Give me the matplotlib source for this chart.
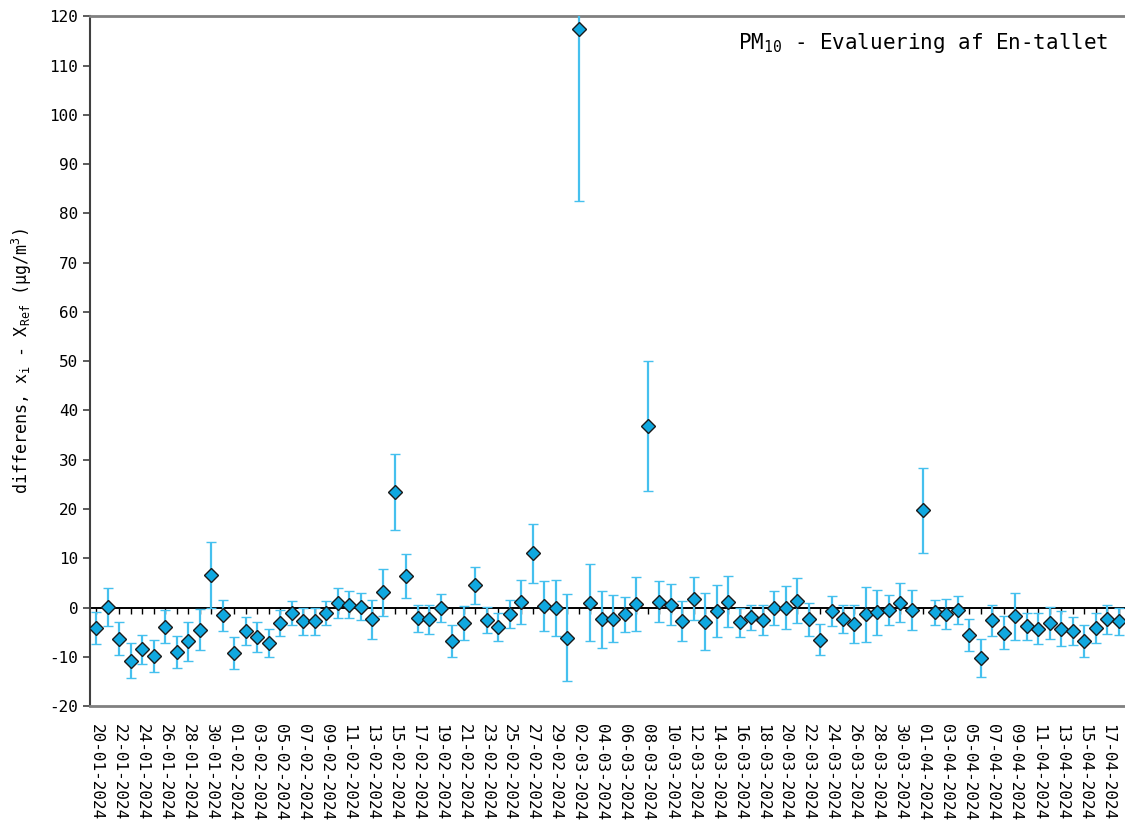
#%%
import numpy as np
import pandas as pd
import matplotlib
matplotlib.use("Agg")
import matplotlib.pyplot as plt

#%%
# daily values, 20-01-2024 .. 18-04-2024
dates = pd.date_range("2024-01-20", "2024-04-18", freq="D")
date_labels = [d.strftime("%d-%m-%Y") for d in dates]

diff = [
    -4.2, 0.1, -6.3, -10.8, -8.5, -9.8, -3.9, -9.0, -6.9, -4.5,
    6.7, -1.6, -9.2, -4.8, -6.0, -7.2, -3.1, -1.1, -2.8, -2.8,
    -1.1, 0.9, 0.6, 0.2, -2.4, 3.1, 23.4, 6.4, -2.2, -2.4,
    -0.1, -6.8, -3.1, 4.5, -2.5, -4.0, -1.3, 1.1, 11.0, 0.3,
    -0.1, -6.1, 117.4, 1.0, -2.4, -2.3, -1.4, 0.7, 36.8, 1.2,
    0.6, -2.8, 1.8, -2.9, -0.7, 1.2, -3.0, -2.0, -2.5, -0.1,
    0.0, 1.4, -2.4, -6.5, -0.7, -2.3, -3.4, -1.4, -1.0, -0.5,
    1.0, -0.5, 19.7, -1.0, -1.3, -0.5, -5.6, -10.3, -2.6, -5.1,
    -1.8, -3.8, -4.3, -3.1, -4.3, -4.8, -6.8, -4.2, -2.4, -2.8,
]
uncert = [
    3.2, 3.9, 3.3, 3.6, 3.0, 3.3, 3.3, 3.2, 3.9, 4.2,
    6.7, 3.2, 3.3, 2.9, 3.0, 2.9, 2.6, 2.5, 2.7, 2.7,
    2.5, 3.0, 2.8, 2.8, 4.0, 4.8, 7.7, 4.4, 2.8, 2.9,
    2.8, 3.2, 3.5, 3.7, 2.7, 2.9, 2.8, 4.5, 6.0, 5.1,
    5.6, 8.8, 34.8, 7.9, 5.8, 4.8, 3.5, 5.5, 13.2, 4.1,
    4.2, 4.1, 4.3, 5.8, 5.3, 5.2, 3.0, 2.5, 3.1, 3.5,
    4.4, 4.5, 3.4, 3.1, 3.1, 2.8, 3.9, 5.6, 4.5, 3.0,
    3.9, 4.0, 8.6, 2.6, 3.1, 2.9, 3.2, 3.9, 3.1, 3.3,
    4.8, 2.7, 3.2, 3.3, 3.6, 2.9, 3.3, 3.1, 2.9, 2.8,
]

#%%
plt.rcParams["font.family"] = ["DejaVu Sans Mono", "DejaVu Sans"]
plt.rcParams["mathtext.fontset"] = "custom"
plt.rcParams["mathtext.rm"] = "DejaVu Sans Mono"
plt.rcParams["mathtext.it"] = "DejaVu Sans Mono"
plt.rcParams["axes.unicode_minus"] = False

x = np.arange(len(dates))

fig = plt.figure(figsize=(11.25, 8.22), dpi=100)
ax = fig.add_axes([0.08, 0.1411, 0.92, 0.8389])

ax.errorbar(x, diff, yerr=uncert, fmt="D", color="#10A8E0", markersize=6.8,
            markeredgecolor="#1a1a1a", markeredgewidth=1.0,
            ecolor="#45C0EE", elinewidth=1.6, capsize=3.5, capthick=1.6, zorder=3)

ax.set_xlim(-0.55, len(dates) - 0.45)
ax.set_ylim(-20, 120)
ax.set_yticks(np.arange(-20, 121, 10))
ax.tick_params(axis="y", labelsize=11.5, direction="out", length=5, width=1.2, color="#404040")

ax.set_xticks(x[::2], date_labels[::2], rotation=-90, ha="center", va="top")
ax.tick_params(axis="x", labelsize=11.5, length=0, pad=13)

# zero axis with day ticks
zero_ax = ax.secondary_xaxis(20 / 140)
zero_ax.set_xticks(x, [])
zero_ax.tick_params(direction="out", length=4, width=1.0, color="black")
zero_ax.spines["bottom"].set_color("black")
zero_ax.spines["bottom"].set_linewidth(1.4)

ax.spines["left"].set_color("#404040")
ax.spines["left"].set_linewidth(1.5)
ax.spines["top"].set_color("#808080")
ax.spines["top"].set_linewidth(2)
ax.spines["bottom"].set_color("#808080")
ax.spines["bottom"].set_linewidth(2)
ax.spines["right"].set_visible(False)

ax.set_ylabel(r"differens, x$_\mathrm{i}$ - X$_\mathrm{Ref}$ (µg/m$^\mathrm{3}$)", fontsize=12, labelpad=11)
ax.text(0.984, 0.9615, r"PM$_\mathrm{10}$ - Evaluering af En-tallet", transform=ax.transAxes,
        ha="right", va="center", fontsize=15)

fig.savefig("out.png", dpi=100)
